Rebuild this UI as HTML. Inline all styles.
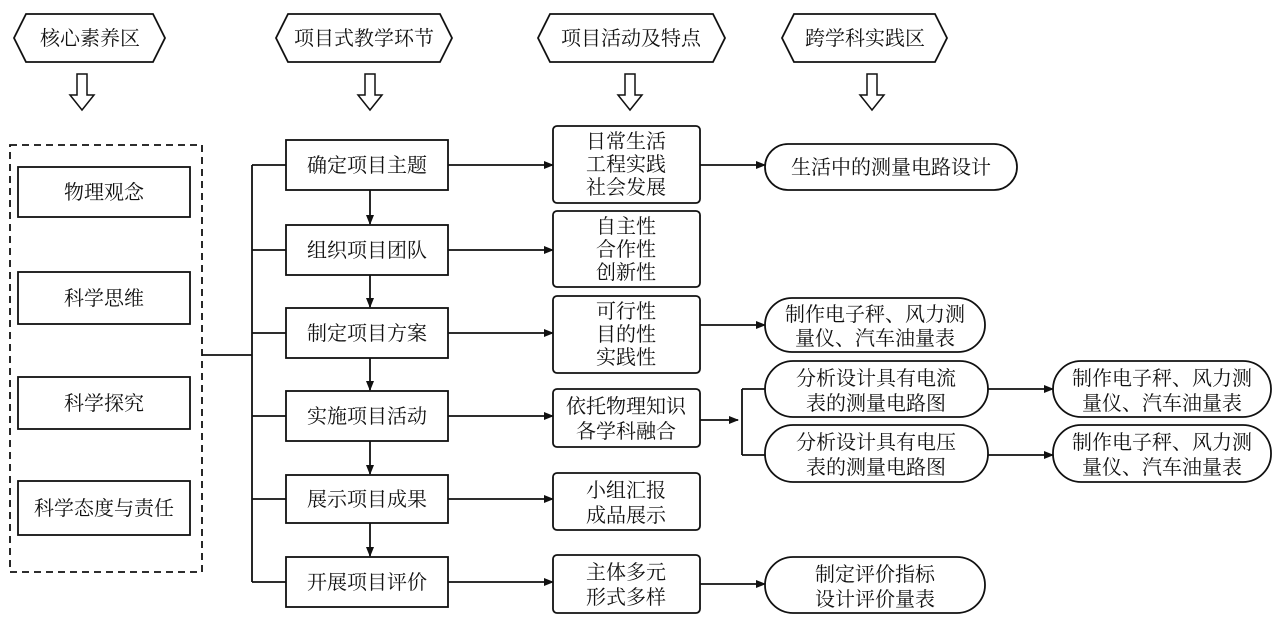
<!DOCTYPE html>
<html><head><meta charset="utf-8"><style>
html,body{margin:0;padding:0;background:#fff;}
svg text{font-family:"Noto Serif CJK SC","Liberation Serif",serif;font-size:20px;fill:#111;text-anchor:middle;}
</style></head><body>
<svg width="1284" height="618" viewBox="0 0 1284 618" xmlns="http://www.w3.org/2000/svg">
<defs><marker id="a" markerWidth="10" markerHeight="8" refX="9" refY="4" orient="auto" markerUnits="userSpaceOnUse"><path d="M0,0 L10,4 L0,8 z" fill="#111"/></marker></defs>
<g fill="none" stroke="#111" stroke-width="1.8">
<polygon points="26,14 153,14 165,38 153,62 26,62 14,38"/>
<polygon points="288,14 440,14 452,38 440,62 288,62 276,38"/>
<polygon points="550,14 713,14 725,38 713,62 550,62 538,38"/>
<polygon points="794,14 935,14 947,38 935,62 794,62 782,38"/>
<g stroke-width="1.5">
<path d="M77,74 H87 V95 H94 L82,110 L70,95 H77 Z"/>
<path d="M365,74 H375 V95 H382 L370,110 L358,95 H365 Z"/>
<path d="M625,74 H635 V95 H642 L630,110 L618,95 H625 Z"/>
<path d="M867,74 H877 V95 H884 L872,110 L860,95 H867 Z"/>
</g>
<rect x="10" y="145" width="192" height="427" stroke-dasharray="7,5"/>
<rect x="18" y="167" width="172" height="50"/>
<rect x="18" y="272" width="172" height="52"/>
<rect x="18" y="377" width="172" height="52"/>
<rect x="18" y="481" width="172" height="54"/>
<path d="M202,355 H252 M252,165 V582 M252,165 H286 M252,250 H286 M252,333 H286 M252,416 H286 M252,499 H286 M252,582 H286"/>
<rect x="286" y="140" width="162" height="50"/>
<rect x="286" y="225" width="162" height="50"/>
<rect x="286" y="308" width="162" height="50"/>
<rect x="286" y="391" width="162" height="50"/>
<rect x="286" y="475" width="162" height="48"/>
<rect x="286" y="557" width="162" height="50"/>
<g marker-end="url(#a)">
<path d="M370,190 V224"/><path d="M370,275 V307"/><path d="M370,358 V390"/><path d="M370,441 V474"/><path d="M370,523 V556"/>
<path d="M448,165 H553"/><path d="M448,250 H553"/><path d="M448,333 H553"/><path d="M448,416 H553"/><path d="M448,499 H553"/><path d="M448,582 H553"/>
<path d="M700,165 H765"/><path d="M700,325 H765"/><path d="M700,584 H765"/>
<path d="M700,420 H738"/>
<path d="M988,389 H1053"/><path d="M988,455 H1053"/>
</g>
<rect x="553" y="126" width="147" height="77" rx="4"/>
<rect x="553" y="211" width="147" height="76" rx="4"/>
<rect x="553" y="296" width="147" height="77" rx="4"/>
<rect x="553" y="389" width="147" height="58" rx="4"/>
<rect x="553" y="473" width="147" height="57" rx="4"/>
<rect x="553" y="555" width="147" height="58" rx="4"/>
<path d="M742,389 V455 M742,389 H765 M742,455 H765"/>
<rect x="765" y="144" width="252" height="46" rx="23"/>
<rect x="765" y="298" width="220" height="54" rx="27"/>
<rect x="765" y="361" width="223" height="56" rx="28"/>
<rect x="765" y="425" width="223" height="57" rx="28"/>
<rect x="765" y="557" width="220" height="56" rx="28"/>
<rect x="1053" y="361" width="218" height="56" rx="28"/>
<rect x="1053" y="425" width="218" height="57" rx="28"/>
</g>
<text x="90" y="45">核心素养区</text>
<text x="364" y="45">项目式教学环节</text>
<text x="631" y="45">项目活动及特点</text>
<text x="865" y="45">跨学科实践区</text>
<text x="104" y="199">物理观念</text>
<text x="104" y="305">科学思维</text>
<text x="104" y="410">科学探究</text>
<text x="104" y="515">科学态度与责任</text>
<text x="367" y="172">确定项目主题</text>
<text x="367" y="257">组织项目团队</text>
<text x="367" y="340">制定项目方案</text>
<text x="367" y="423">实施项目活动</text>
<text x="367" y="506">展示项目成果</text>
<text x="367" y="589">开展项目评价</text>
<text x="626" y="148">日常生活</text><text x="626" y="171">工程实践</text><text x="626" y="194">社会发展</text>
<text x="626" y="233">自主性</text><text x="626" y="256">合作性</text><text x="626" y="279">创新性</text>
<text x="626" y="318">可行性</text><text x="626" y="341">目的性</text><text x="626" y="364">实践性</text>
<text x="626" y="413">依托物理知识</text><text x="626" y="438">各学科融合</text>
<text x="626" y="497">小组汇报</text><text x="626" y="522">成品展示</text>
<text x="626" y="579">主体多元</text><text x="626" y="604">形式多样</text>
<text x="891" y="174">生活中的测量电路设计</text>
<text x="875" y="321">制作电子秤、风力测</text><text x="875" y="345">量仪、汽车油量表</text>
<text x="876" y="385">分析设计具有电流</text><text x="876" y="410">表的测量电路图</text>
<text x="876" y="449">分析设计具有电压</text><text x="876" y="474">表的测量电路图</text>
<text x="1162" y="385">制作电子秤、风力测</text><text x="1162" y="410">量仪、汽车油量表</text>
<text x="1162" y="449">制作电子秤、风力测</text><text x="1162" y="474">量仪、汽车油量表</text>
<text x="875" y="581">制定评价指标</text><text x="875" y="606">设计评价量表</text>
</svg>
</body></html>
